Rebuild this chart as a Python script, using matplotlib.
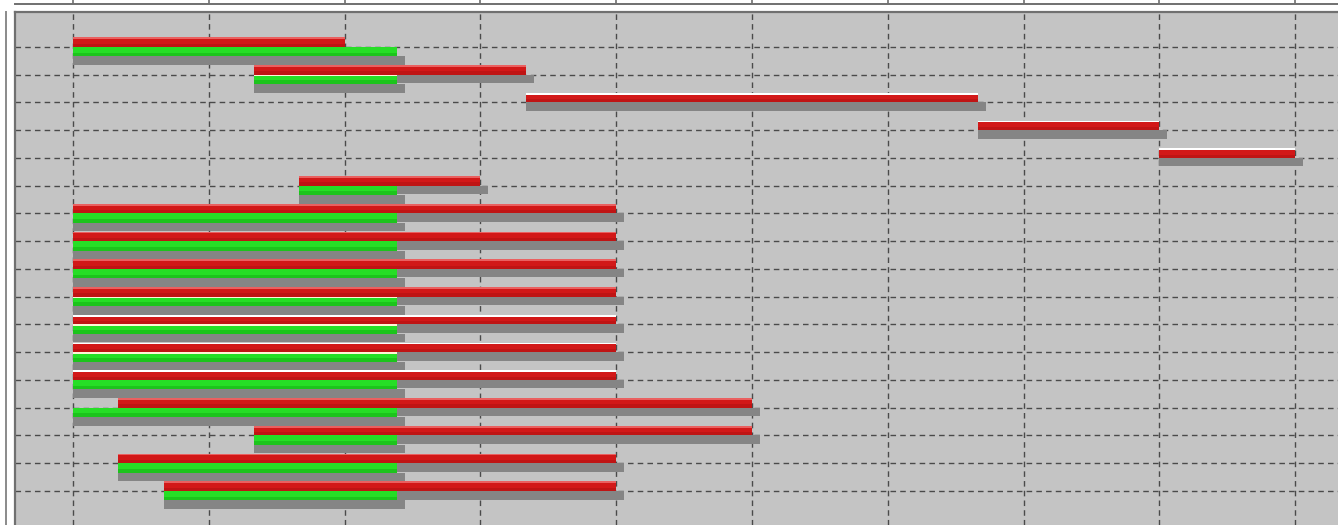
import matplotlib.pyplot as plt
import numpy as np

# Gantt data, in days (grid every 3 days)
tasks = list(range(17))
plan_start = [0, 4, 10, 20, 24, 5, 0, 0, 0, 0, 0, 0, 0, 1, 4, 1, 2]
plan_end = [6, 10, 20, 24, 27, 9, 12, 12, 12, 12, 12, 12, 12, 15, 15, 12, 12]
actual_start = [0, 4, None, None, None, 5, 0, 0, 0, 0, 0, 0, 0, 0, 4, 1, 2]
actual_end = [7.15, 7.15, None, None, None, 7.15, 7.15, 7.15, 7.15, 7.15, 7.15,
              7.15, 7.15, 7.15, 7.15, 7.15, 7.15]
# rows drawn with a white edge on the plan bar / on the actual bar
white_plan_rows = [2, 3, 4, 10, 11, 12]
white_actual_rows = [1, 9, 10, 11]

W, H = 1338, 525
fig = plt.figure(figsize=(W / 100, H / 100), dpi=100)
fig.patch.set_facecolor("white")

# pixel geometry
px_day = 45.27
x0_px = 73
row0_px = 47
row_px = 27.75
left_px, top_px = 15, 12

xmin = (left_px - x0_px) / px_day
xmax = (W - x0_px) / px_day
ymin = (top_px - row0_px) / row_px
ymax = (H - row0_px) / row_px

ax = fig.add_axes([left_px / W, 0, 1 - left_px / W, 1 - top_px / H])
ax.set_facecolor("#c4c4c4")
ax.set_xlim(xmin, xmax)
ax.set_ylim(ymax, ymin)

bar_h = 9.5 / row_px
sh_h = 8.5 / row_px
sh_dx = 8 / px_day
edge_h = 1.6 / row_px

# grid
for gx in np.arange(0, 28, 3):
    ax.axvline(gx, color="#4a4a4a", lw=1, ls=(0, (4, 3)), zorder=1)
for gy in tasks:
    ax.axhline(gy, color="#4a4a4a", lw=1, ls=(0, (4, 3)), zorder=1)

for i in tasks:
    ps, pe = plan_start[i], plan_end[i]
    # shadow of the plan bar
    ax.barh(i, pe - ps + sh_dx, left=ps, height=sh_h, align="edge",
            color="#858585", zorder=2)
    ax.barh(i - bar_h, pe - ps, left=ps, height=bar_h, align="edge",
            color="#d21818", zorder=3)
    ax.barh(i - bar_h * 0.35, pe - ps, left=ps, height=bar_h * 0.35,
            align="edge", color="#bf1414", zorder=3)
    top_col = "#ffffff" if i in white_plan_rows else "#ea6060"
    ax.barh(i - bar_h, pe - ps, left=ps, height=edge_h, align="edge",
            color=top_col, zorder=4)
    if actual_start[i] is not None:
        a_s, a_e = actual_start[i], actual_end[i]
        ax.barh(i + bar_h, a_e - a_s + sh_dx, left=a_s, height=sh_h,
                align="edge", color="#858585", zorder=2)
        ax.barh(i, a_e - a_s, left=a_s, height=bar_h, align="edge",
                color="#26de26", zorder=5)
        ax.barh(i + bar_h * 0.6, a_e - a_s, left=a_s, height=bar_h * 0.4,
                align="edge", color="#1cc41c", zorder=5)
        if i in white_actual_rows:
            ax.barh(i, a_e - a_s, left=a_s, height=edge_h, align="edge",
                    color="#fff6d8", zorder=6)

ax.set_xticks([])
ax.set_yticks([])
for s in ["right", "bottom"]:
    ax.spines[s].set_visible(False)
for s in ["left", "top"]:
    ax.spines[s].set_color("#707070")
    ax.spines[s].set_linewidth(1.6)

# timeline header strip above
hd = fig.add_axes([left_px / W, 1 - 4 / H, 1 - left_px / W, 10 / H])
hd.set_xlim(xmin, xmax)
hd.set_ylim(0, 1)
for gx in np.arange(0, 28, 3):
    hd.axvline(gx, color="#707070", lw=1.2)
hd.set_xticks([])
hd.set_yticks([])
for s in ["left", "right", "top"]:
    hd.spines[s].set_visible(False)
hd.spines["bottom"].set_color("#707070")
hd.spines["bottom"].set_linewidth(1.4)

# edge of the task list panel on the left
fig.add_artist(plt.Line2D([5.5 / W, 5.5 / W], [0, 1 - top_px / H],
                          color="#8a8a8a", lw=1.4))

fig.savefig("out.png", dpi=100)
